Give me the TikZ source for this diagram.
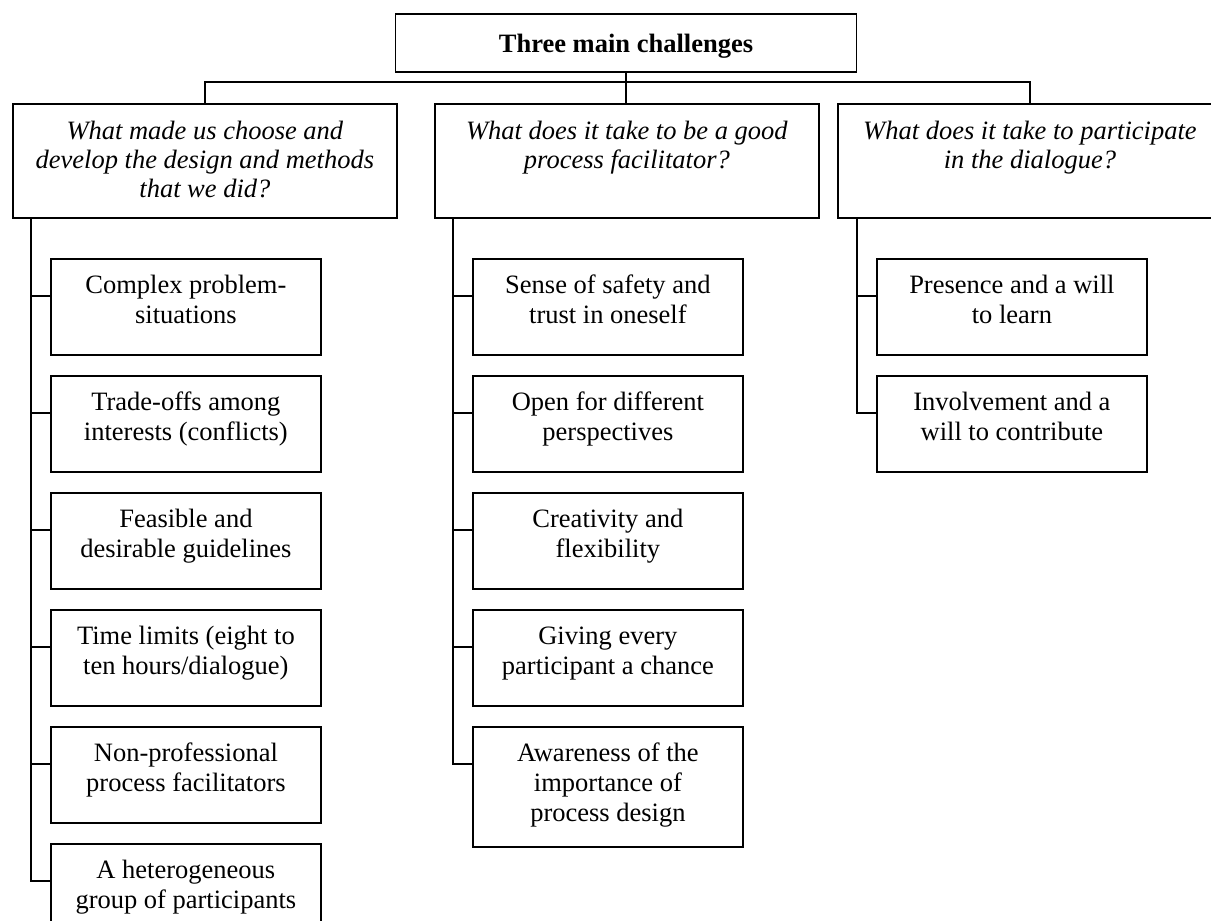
\documentclass[tikz,border=0pt]{standalone}
\usepackage{fontspec}
\setmainfont{Liberation Serif}
\usetikzlibrary{positioning}

\newcommand{\leaftext}[2][96pt]{\parbox[c][#1][t]{270pt}{\centering\rule{0pt}{35pt}#2}}
\newcommand{\questtext}[1]{\parbox[c][114pt][t]{384pt}{\centering\itshape\rule{0pt}{36pt}#1}}

\begin{document}
\begin{tikzpicture}[x=1pt,y=-1pt,node distance=19.2pt,line width=1.8pt,
  every node/.style={font=\fontsize{26.5}{30}\selectfont},
  titlebox/.style={draw,minimum width=461pt,minimum height=58pt,text depth=0pt,
    font=\fontsize{26.5}{30}\selectfont\bfseries},
  questbox/.style={draw,inner sep=0pt,anchor=north west,font=\fontsize{26.5}{29}\selectfont},
  leafbox/.style={draw,inner sep=0pt}]
  \useasboundingbox (0,0) rectangle (1211,921);

  % top and the three questions
  \node[titlebox] (top) at (626,43) {Three main challenges};
  \node[questbox] (catL) at (12,103) {\questtext{What made us choose and\\develop the design and methods\\that we did?}};
  \node[questbox] (catM) at (434,103) {\questtext{What does it take to be a good\\process facilitator?}};
  \node[questbox] (catR) at (837,103) {\questtext{What does it take to participate\\in the dialogue?}};

  % left column
  \node[leafbox, below right=39pt and 38pt of catL.south west] (L1) {\leaftext{Complex problem-\\situations}};
  \node[leafbox, below=of L1] (L2) {\leaftext{Trade-offs among\\interests (conflicts)}};
  \node[leafbox, below=of L2] (L3) {\leaftext{Feasible and\\desirable guidelines}};
  \node[leafbox, below=of L3] (L4) {\leaftext{Time limits (eight to\\ten hours/dialogue)}};
  \node[leafbox, below=of L4] (L5) {\leaftext{Non-professional\\process facilitators}};
  \node[leafbox, below=of L5] (L6) {\leaftext{A heterogeneous\\group of participants}};

  % middle column
  \node[leafbox, below right=39pt and 38pt of catM.south west] (M1) {\leaftext{Sense of safety and\\trust in oneself}};
  \node[leafbox, below=of M1] (M2) {\leaftext{Open for different\\perspectives}};
  \node[leafbox, below=of M2] (M3) {\leaftext{Creativity and\\flexibility}};
  \node[leafbox, below=of M3] (M4) {\leaftext{Giving every\\participant a chance}};
  \node[leafbox, below=of M4] (M5) {\leaftext[120pt]{Awareness of the\\importance of\\process design}};

  % right column
  \node[leafbox, below right=39pt and 39pt of catR.south west] (R1) {\leaftext{Presence and a will\\to learn}};
  \node[leafbox, below=of R1] (R2) {\leaftext{Involvement and a\\will to contribute}};

  % connectors
  \coordinate (bus) at (626,82);
  \draw (top.south) -- (top.south |- catM.north);
  \draw (catL.north) |- (bus) -| (catR.north);
  \foreach \i in {1,...,6}
    \draw ([xshift=19pt]catL.south west) |- ([yshift=-38pt]L\i.north west);
  \foreach \i in {1,...,5}
    \draw ([xshift=19pt]catM.south west) |- ([yshift=-38pt]M\i.north west);
  \foreach \i in {1,2}
    \draw ([xshift=20pt]catR.south west) |- ([yshift=-38pt]R\i.north west);
\end{tikzpicture}
\end{document}
